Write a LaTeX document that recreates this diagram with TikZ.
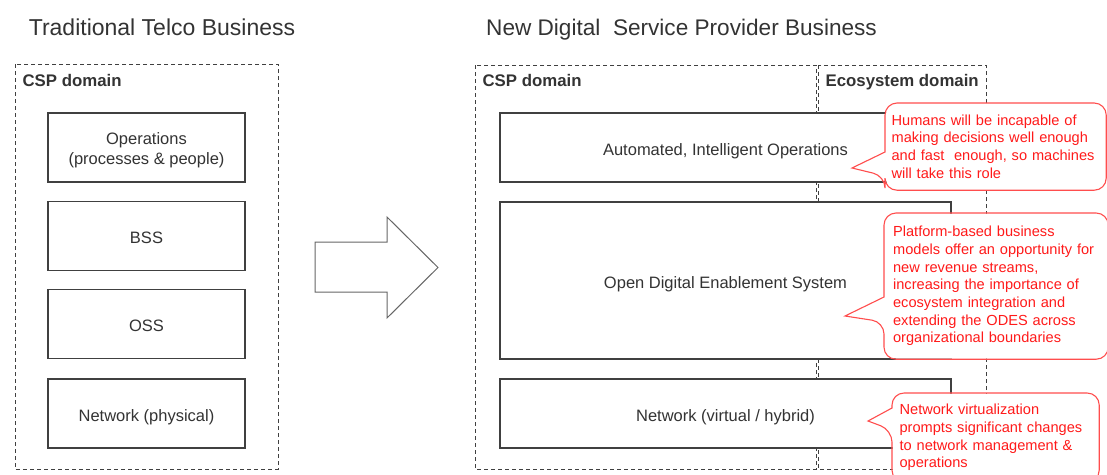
\documentclass[tikz,border=0pt]{standalone}
\usepackage{fontspec}
\setmainfont{Liberation Sans}
\usetikzlibrary{positioning, calc}
\definecolor{cline}{HTML}{404040}
\definecolor{ctext}{HTML}{333333}
\definecolor{cred}{HTML}{FF1A1A}
\definecolor{credline}{HTML}{FF4D4D}
\tikzset{
  every picture/.style={x=1pt, y=-1pt, line width=1.2pt},
  layer/.style={draw=cline, fill=white, text=ctext, align=center, text height=17pt, text depth=2pt, font=\fontsize{16.5}{20}\selectfont},
  domainbox/.style={draw=cline, dash pattern=on 4pt off 3pt, line width=1pt},
  domlabel/.style={anchor=base west, inner sep=0pt, text=ctext, font=\fontsize{16.8}{19}\selectfont\bfseries},
  title/.style={anchor=base, inner sep=0pt, text=ctext, font=\fontsize{23}{26}\selectfont},
  bigarrow/.style={draw=cline!80, fill=white, line width=1pt},
  note/.style={anchor=north west, fill=white, rounded corners=12pt, inner ysep=0pt, text=cred, align=left, font=\fontsize{14.6}{17.7}\selectfont},
  callout/.style={draw=credline, line width=1.1pt},
}

\begin{document}
\begin{tikzpicture}
  \path[use as bounding box] (0,0) rectangle (1107,474);
  \clip (0,0) rectangle (1107,474);
  % traditional telco
  \draw[domainbox] (15,64) rectangle (278,469);
  \node[domlabel] (lcsp) at (22,86) {CSP domain};
  \node[layer, minimum width=197pt, minimum height=69pt, text height=36pt, text depth=2pt] (l1) at (146.5,147.5) {Operations\\(processes \& people)};
  \foreach \name/\y/\i in {BSS/236/2, OSS/324/3, Network (physical)/413.5/4} {
    \node[layer, minimum width=197pt, minimum height=69pt] (l\i) at (146.5,\y) {\name};
  }
  \node[title] (ltitle) at (162,35) {Traditional Telco Business};
  % transformation arrow
  \draw[bigarrow] (315,242) -- (387,242) -- (387,217) -- (438,267.5) -- (387,318) -- (387,292) -- (315,292) -- cycle;
  % new digital service provider
  \draw[domainbox] (475,65) rectangle (816,469);
  \draw[domainbox] (818,65) rectangle (986,469);
  \node[domlabel] (rcsp) at (482,86) {CSP domain};
  \node[domlabel] (reco) at (825,86) {Ecosystem domain};
  \node[title, font=\fontsize{22.6}{26}\selectfont] (rtitle) at (681.5,35) {New Digital\ \ Service Provider Business};
  \tikzset{every node/.append style={font=\fontsize{17.2}{20}\selectfont}}
  \node[layer, minimum width=451pt, minimum height=69pt] (r1) at (725.5,147.5) {Automated, Intelligent Operations};
  \node[layer, minimum width=451pt, minimum height=157pt] (r2) at (725.5,280.5) {Open Digital Enablement System};
  \node[layer, minimum width=451pt, minimum height=69pt] (r3) at (725.5,413.5) {Network (virtual / hybrid)};
  % callouts
  \node[note, minimum width=220pt, minimum height=86pt, text width=208pt, inner xsep=6pt] (n1) at (885,103)
    {Humans will be incapable of\\making decisions well enough\\and fast\ \ enough, so machines\\will take this role};
  \node[note, minimum width=223pt, minimum height=145pt, text width=206pt, inner xsep=8.5pt] (n2) at (884,213)
    {Platform-based business\\models offer an opportunity for\\new revenue streams,\\increasing the importance of\\ecosystem integration and\\extending the ODES across\\organizational boundaries};
  \node[note, minimum width=206pt, minimum height=88pt, text width=192pt, inner xsep=7pt] (n3) at (892,393)
    {Network virtualization\\prompts significant changes\\to network management \&\\operations};
  \coordinate (tn1) at (852,168);
  \coordinate (tn2) at (845,316);
  \coordinate (tn3) at (868,421);
  \foreach \nm/\a/\b in {n1/49/73, n2/84/109, n3/15/37} {
    \draw[callout] ($(\nm.north west)+(0,\a)$) [rounded corners=12pt] -- (\nm.north west) -- (\nm.north east)
      -- (\nm.south east) -- (\nm.south west) -- ($(\nm.north west)+(0,\b)$) [sharp corners] -- (t\nm) -- cycle;
  }
\end{tikzpicture}
\end{document}
